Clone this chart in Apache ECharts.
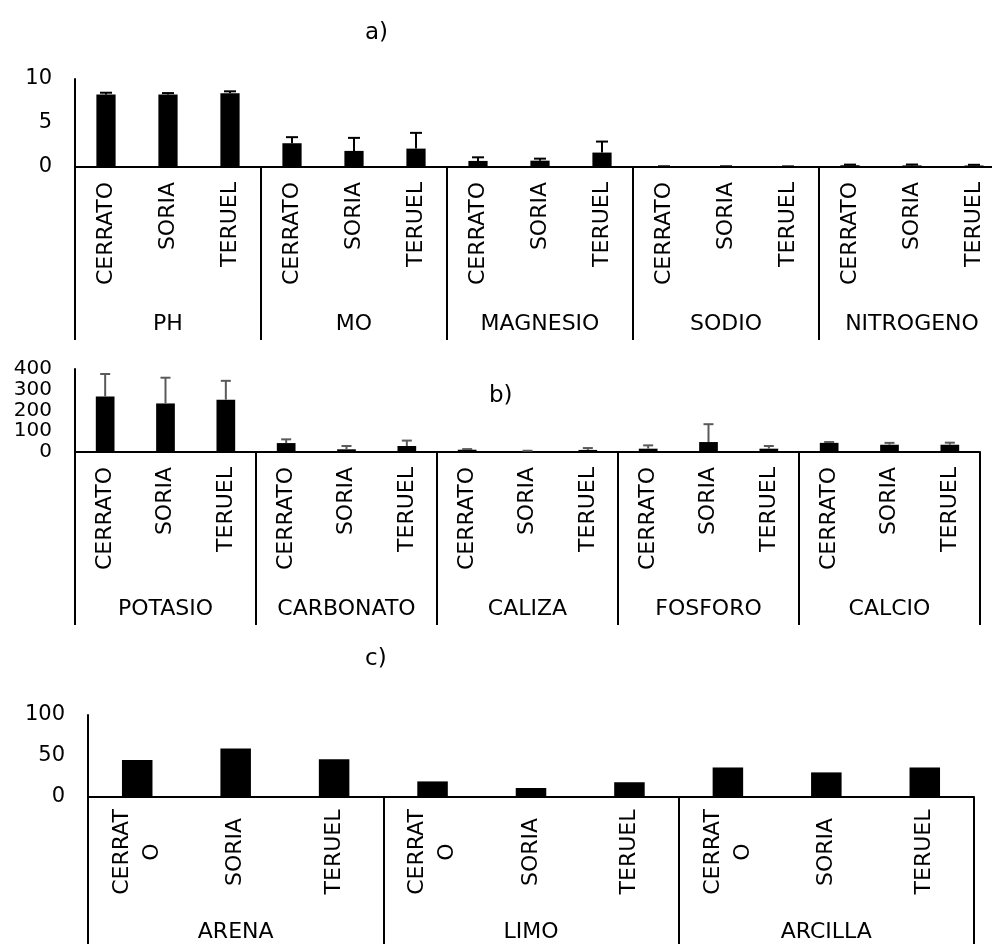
<!DOCTYPE html>
<html>
<head>
<meta charset="utf-8">
<script src="https://cdn.jsdelivr.net/npm/echarts@6/dist/echarts.min.js"></script>
<style>
html,body{margin:0;padding:0;background:#fff;overflow:hidden;width:992px;height:944px;}
#chart{width:1012px;height:944px;}
</style>
</head>
<body>
<div id="chart"></div>
<script>
// ---- data ----
const sites = ['CERRATO', 'SORIA', 'TERUEL'];

const groupsA = ['PH', 'MO', 'MAGNESIO', 'SODIO', 'NITROGENO'];
const valuesA = [8.25, 8.25, 8.37, 2.70, 1.83, 2.09, 0.69, 0.72, 1.64, 0.06, 0.05, 0.05, 0.20, 0.18, 0.17];
const errorsA = [0.19, 0.15, 0.23, 0.69, 1.48, 1.79, 0.41, 0.23, 1.25, 0.02, 0.03, 0.02, 0.07, 0.10, 0.08];
const ticksA = { min: 0, max: 10, interval: 5 };

const groupsB = ['POTASIO', 'CARBONATO', 'CALIZA', 'FOSFORO', 'CALCIO'];
const valuesB = [267, 234, 252, 43, 13, 29, 11, 4, 10, 16, 48, 16, 44, 35, 35];
const errorsB = [109, 124, 91, 18, 16, 26, 3, 2, 9, 16, 86, 13, 4, 9, 10];
const ticksB = { min: 0, max: 400, interval: 100 };

const groupsC = ['ARENA', 'LIMO', 'ARCILLA'];
const valuesC = [45, 59, 46, 19, 11, 18, 36, 30, 36];
const ticksC = { min: 0, max: 100, interval: 50 };

const panelTitles = ['a)', 'b)', 'c)'];

// ---- build ----
const FONT = 'DejaVu Sans';
const FS = 22;
function cats(groups) { const r = []; groups.forEach(() => sites.forEach(s => r.push(s))); return r; }

const grids = [
  { left: 75, top: 79, width: 930, height: 88, outerBoundsMode: 'none' },
  { left: 75, top: 369, width: 905, height: 83, outerBoundsMode: 'none' },
  { left: 88, top: 715, width: 886, height: 82, outerBoundsMode: 'none' }
];

const panels = [
  { groups: groupsA, values: valuesA, errors: errorsA, ticks: ticksA, tickLen: 173, groupMargin: 146, errColor: '#000', cap: 12, catAlign: null, yFs: 21 },
  { groups: groupsB, values: valuesB, errors: errorsB, ticks: ticksB, tickLen: 173, groupMargin: 146, errColor: '#5a5a5a', cap: 10, catAlign: null, yFs: 20 },
  { groups: groupsC, values: valuesC, errors: null, ticks: ticksC, tickLen: 160, groupMargin: 124, errColor: '#000', cap: 10, catAlign: 'center', yFs: 21 }
];

const xAxis = [], yAxis = [], series = [];
panels.forEach((p, i) => {
  const catLabel = {
    interval: 0, rotate: 90, margin: 15, color: '#000', fontFamily: FONT, fontSize: FS
  };
  if (p.catAlign) {
    catLabel.align = 'center';
    catLabel.verticalAlign = 'middle';
    catLabel.margin = 55;
    catLabel.lineHeight = 30;
    catLabel.formatter = v => v === 'CERRATO' ? 'CERRAT\nO' : v;
  }
  xAxis.push({
    type: 'category', gridIndex: i, data: cats(p.groups), position: 'bottom',
    axisLine: { show: true, lineStyle: { color: '#000', width: 2 } },
    axisTick: { show: false },
    axisLabel: catLabel
  });
  xAxis.push({
    type: 'category', gridIndex: i, data: p.groups, position: 'bottom',
    axisLine: { show: false },
    axisTick: { show: true, interval: 0, length: p.tickLen, lineStyle: { color: '#000', width: 2 } },
    axisLabel: { interval: 0, margin: p.groupMargin, color: '#000', fontFamily: FONT, fontSize: FS }
  });
  yAxis.push({
    type: 'value', gridIndex: i, min: p.ticks.min, max: p.ticks.max, interval: p.ticks.interval,
    axisLine: { show: true, lineStyle: { color: '#000', width: 2 } },
    axisTick: { show: false },
    splitLine: { show: false },
    axisLabel: { margin: 23, color: '#000', fontFamily: FONT, fontSize: p.yFs, lineHeight: 18 }
  });
  series.push({
    type: 'bar', xAxisIndex: i * 2, yAxisIndex: i, data: p.values, barWidth: '31%',
    itemStyle: { color: '#000' }, silent: true
  });
  if (p.errors) {
    const cap = p.cap, col = p.errColor;
    series.push({
      type: 'custom', xAxisIndex: i * 2, yAxisIndex: i, z: 5, silent: true,
      data: p.values.map((v, k) => [k, v, p.errors[k]]),
      encode: { x: 0, y: 1 },
      renderItem: function (params, api) {
        const x = api.value(0), v = api.value(1), e = api.value(2);
        const a = api.coord([x, v]);
        const b = api.coord([x, v + e]);
        return {
          type: 'group', children: [
            { type: 'line', shape: { x1: a[0], y1: a[1], x2: b[0], y2: b[1] }, style: { stroke: col, lineWidth: 2 } },
            { type: 'line', shape: { x1: b[0] - cap / 2, y1: b[1], x2: b[0] + cap / 2, y2: b[1] }, style: { stroke: col, lineWidth: 2 } }
          ]
        };
      }
    });
  }
});

const titlePos = [{ left: 360, top: 17 }, { left: 484, top: 380 }, { left: 360, top: 643 }];
const title = panelTitles.map((t, i) => ({
  text: t, left: titlePos[i].left, top: titlePos[i].top,
  textStyle: { fontFamily: FONT, fontSize: 23, fontWeight: 'normal', color: '#000' }
}));

const chart = echarts.init(document.getElementById('chart'), null, { renderer: 'canvas' });
chart.setOption({
  animation: false,
  backgroundColor: '#fff',
  title: title,
  grid: grids,
  xAxis: xAxis,
  yAxis: yAxis,
  series: series
});
</script>
</body>
</html>
